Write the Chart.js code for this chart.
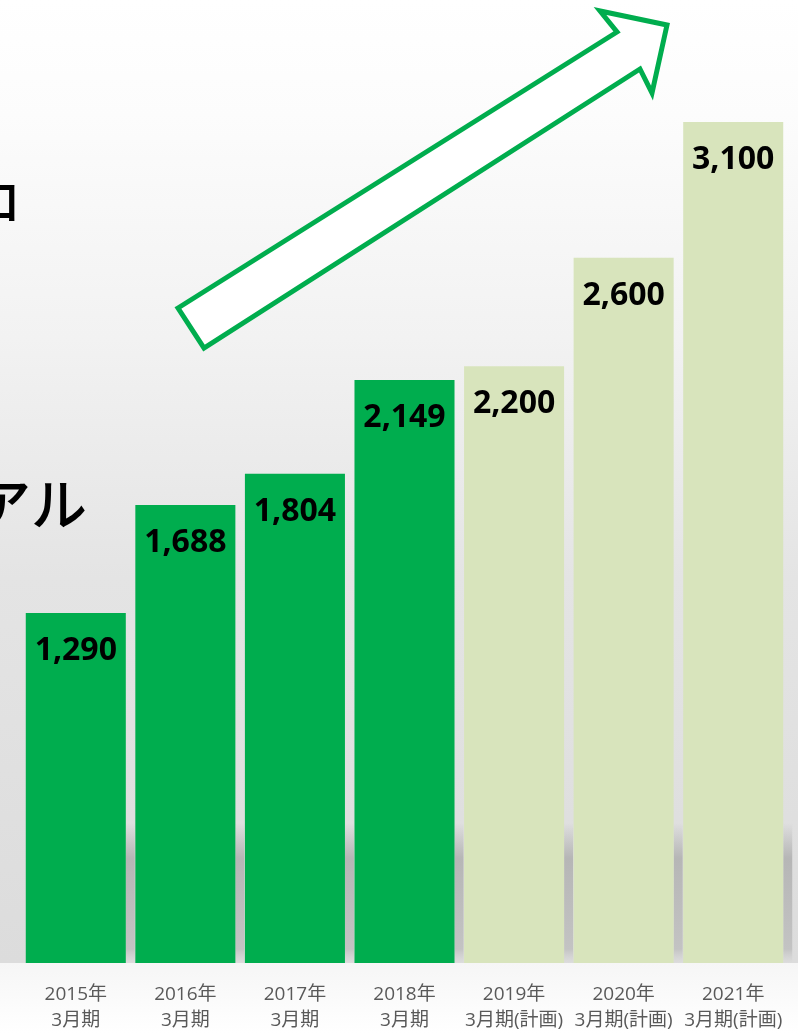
<!DOCTYPE html>
<html lang="ja">
<head>
<meta charset="utf-8">
<script src="https://cdn.jsdelivr.net/npm/chart.js@4/dist/chart.umd.min.js"></script>
<style>
  html, body { margin: 0; padding: 0; background: #fff; }
  #wrap { width: 798px; height: 1033px; position: relative; }
</style>
</head>
<body>
<div id="wrap"><canvas id="chart"></canvas></div>
<script>
// --- data ---
const years = ['2015年', '2016年', '2017年', '2018年', '2019年', '2020年', '2021年'];
const periods = ['3月期', '3月期', '3月期', '3月期', '3月期(計画)', '3月期(計画)', '3月期(計画)'];
const values = [1290, 1688, 1804, 2149, 2200, 2600, 3100];
const isPlan = [false, false, false, false, true, true, true];

const GREEN = '#00ad4e';
const PALE = '#d8e4bc';

// --- background + bar shadows ---
const backdrop = {
  id: 'backdrop',
  beforeDraw(chart) {
    const { ctx, width, height, chartArea } = chart;
    const base = chartArea.bottom;
    ctx.save();
    let g = ctx.createLinearGradient(0, 0, 0, base);
    g.addColorStop(0, '#ffffff');
    g.addColorStop(0.12, '#fcfcfc');
    g.addColorStop(0.35, '#f2f2f2');
    g.addColorStop(0.6, '#e4e4e4');
    g.addColorStop(1, '#dcdcdc');
    ctx.fillStyle = g;
    ctx.fillRect(0, 0, width, base);
    g = ctx.createLinearGradient(0, base, 0, height);
    g.addColorStop(0, '#f6f6f6');
    g.addColorStop(1, '#ffffff');
    ctx.fillStyle = g;
    ctx.fillRect(0, base, width, height - base);
    ctx.restore();
  },
  beforeDatasetsDraw(chart) {
    const { ctx, chartArea } = chart;
    const base = chartArea.bottom;
    ctx.save();
    chart.getDatasetMeta(0).data.forEach(bar => {
      const right = bar.x + bar.width / 2;
      const top = Math.max(bar.y, base - 140);
      const g = ctx.createLinearGradient(0, top, 0, base);
      g.addColorStop(0, 'rgba(182,182,182,0)');
      g.addColorStop(0.25, 'rgba(182,182,182,1)');
      g.addColorStop(0.9, 'rgba(195,195,195,1)');
      g.addColorStop(1, 'rgba(220,220,220,0.6)');
      ctx.fillStyle = g;
      ctx.fillRect(right, top, 9, base - top);
    });
    ctx.restore();
  }
};

// --- value labels, arrow, cropped heading text ---
const overlay = {
  id: 'overlay',
  afterDatasetsDraw(chart) {
    const { ctx } = chart;
    ctx.save();
    ctx.fillStyle = '#000';
    ctx.font = "bold 32px 'Open Sans'";
    ctx.textAlign = 'center';
    ctx.textBaseline = 'alphabetic';
    chart.getDatasetMeta(0).data.forEach((bar, i) => {
      ctx.fillText(values[i].toLocaleString('en-US'), bar.x, bar.y + 47);
    });

    // arrow
    ctx.beginPath();
    ctx.moveTo(178, 308);
    ctx.lineTo(617, 32);
    ctx.lineTo(600, 11);
    ctx.lineTo(667, 25);
    ctx.lineTo(652, 93);
    ctx.lineTo(640, 69);
    ctx.lineTo(204, 348);
    ctx.closePath();
    ctx.fillStyle = '#ffffff';
    ctx.fill();
    ctx.lineWidth = 5;
    ctx.lineJoin = 'miter';
    ctx.strokeStyle = GREEN;
    ctx.stroke();

    // heading text cut off at the left edge
    ctx.fillStyle = '#000';
    ctx.textAlign = 'right';
    ctx.font = "500 50px 'Noto Sans CJK JP'";
    ctx.fillText('ロ', 21, 220);
    ctx.font = "500 56px 'Noto Sans CJK JP'";
    ctx.fillText('アル', 87, 525);
    ctx.restore();
  }
};

new Chart(document.getElementById('chart'), {
  type: 'bar',
  data: {
    labels: years.map((y, i) => [y, periods[i]]),
    datasets: [{
      data: values,
      backgroundColor: isPlan.map(p => p ? PALE : GREEN),
      borderWidth: 0,
      barPercentage: 0.913,
      categoryPercentage: 1,
    }]
  },
  options: {
    responsive: true,
    maintainAspectRatio: false,
    animation: false,
    layout: { padding: { left: 21, right: 10, top: 0, bottom: 2 } },
    plugins: { legend: { display: false }, tooltip: { enabled: false } },
    scales: {
      y: { display: false, min: 0, max: 3550 },
      x: {
        grid: { display: false },
        border: { display: false },
        afterFit: (scale) => { scale.height = 68; },
        ticks: {
          color: '#595959',
          padding: 10,
          font: { family: "'Open Sans', 'Noto Sans CJK JP'", size: 19, lineHeight: 1.4 },
          maxRotation: 0,
          autoSkip: false,
        }
      }
    }
  },
  plugins: [backdrop, overlay]
});
</script>
</body>
</html>
